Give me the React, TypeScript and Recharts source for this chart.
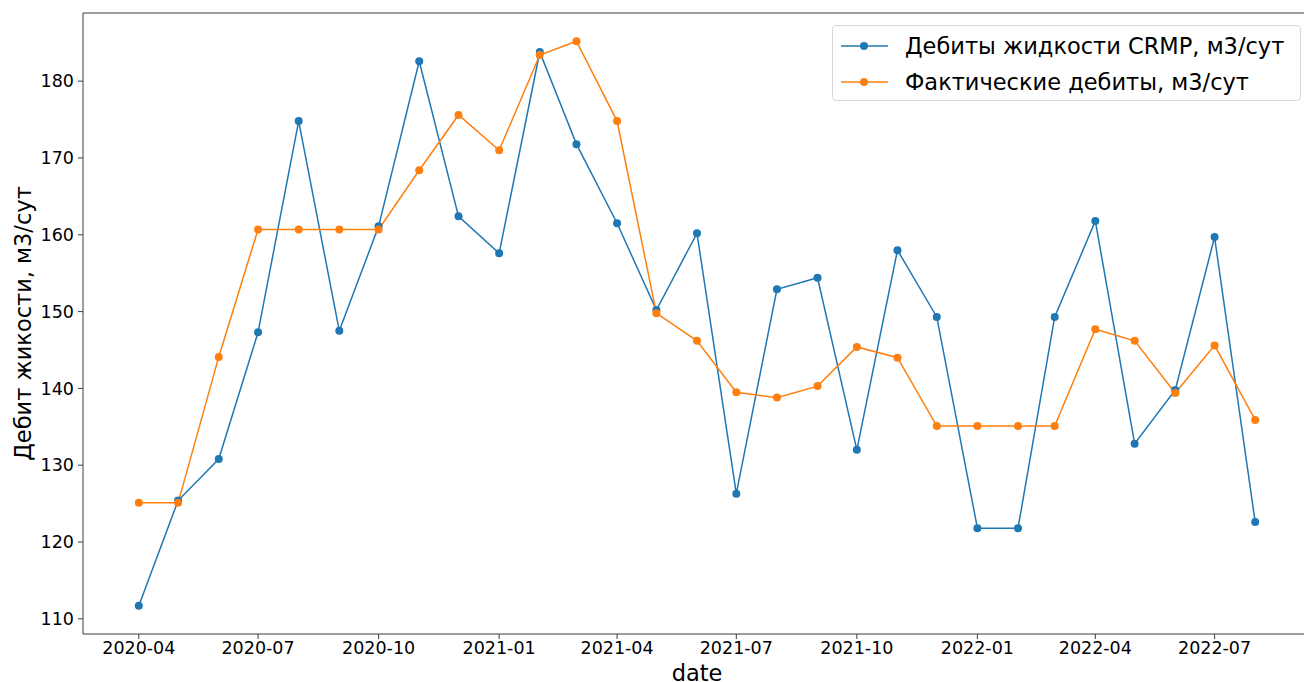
import React from 'react';
import { LineChart, Line, XAxis, YAxis, ReferenceLine } from 'recharts';

const months: string[] = [
  '2020-04', '2020-05', '2020-06', '2020-07', '2020-08', '2020-09', '2020-10', '2020-11', '2020-12',
  '2021-01', '2021-02', '2021-03', '2021-04', '2021-05', '2021-06', '2021-07', '2021-08', '2021-09',
  '2021-10', '2021-11', '2021-12', '2022-01', '2022-02', '2022-03', '2022-04', '2022-05', '2022-06',
  '2022-07', '2022-08',
];

const crmp: number[] = [
  111.7, 125.4, 130.8, 147.3, 174.8, 147.5, 161.1, 182.6, 162.4,
  157.6, 183.8, 171.8, 161.5, 150.2, 160.2, 126.3, 152.9, 154.4,
  132.0, 158.0, 149.3, 121.8, 121.8, 149.3, 161.8, 132.8, 139.8,
  159.7, 122.6,
];

const actual: number[] = [
  125.1, 125.1, 144.1, 160.7, 160.7, 160.7, 160.7, 168.4, 175.6,
  171.0, 183.4, 185.2, 174.8, 149.8, 146.2, 139.5, 138.8, 140.3,
  145.4, 144.0, 135.1, 135.1, 135.1, 135.1, 147.7, 146.2, 139.4,
  145.6, 135.9,
];

const xTickLabels: string[] = [
  '2020-04', '2020-07', '2020-10', '2021-01', '2021-04', '2021-07', '2021-10', '2022-01', '2022-04', '2022-07',
];
const yTicks: number[] = [110, 120, 130, 140, 150, 160, 170, 180];

const toTs = (m: string) => Date.UTC(Number(m.slice(0, 4)), Number(m.slice(5, 7)) - 1, 1);

const data = months.map((m, i) => ({ t: toTs(m), crmp: crmp[i], actual: actual[i] }));

const tMin = toTs(months[0]);
const tMax = toTs(months[months.length - 1]);
const xPad = (tMax - tMin) * 0.05;
const allVals = [...crmp, ...actual];
const vMin = Math.min(...allVals);
const vMax = Math.max(...allVals);
const yPad = (vMax - vMin) * 0.05;
const xDomain: [number, number] = [tMin - xPad, tMax + xPad];
const yDomain: [number, number] = [vMin - yPad, vMax + yPad];

const fmt = (t: number) => {
  const d = new Date(t);
  return `${d.getUTCFullYear()}-${String(d.getUTCMonth() + 1).padStart(2, '0')}`;
};

const FONT = 'DejaVu Sans';
const BLUE = '#1f77b4';
const ORANGE = '#ff7f0e';
const AXIS = '#3a3a3a';

const YLabel = () => (
  <text
    x={31}
    y={323.5}
    transform="rotate(-90 31 323.5)"
    textAnchor="middle"
    fontFamily={FONT}
    fontSize={22.5}
    fill="#000"
  >
    Дебит жикости, м3/сут
  </text>
);

const LegendBox = () => (
  <div
    style={{
      position: 'absolute',
      left: 832,
      top: 25,
      width: 469,
      height: 76,
      border: '1px solid #d8d8d8',
      borderRadius: 4,
      background: 'rgba(255,255,255,0.8)',
      boxSizing: 'border-box',
      fontFamily: FONT,
      fontSize: 22.5,
      color: '#000',
    }}
  >
    {[
      { c: BLUE, label: 'Дебиты жидкости CRMP, м3/сут', y: 20 },
      { c: ORANGE, label: 'Фактические дебиты, м3/сут', y: 56 },
    ].map((it) => (
      <div key={it.label} style={{ position: 'absolute', left: 0, top: it.y - 16, height: 32, width: '100%' }}>
        <svg width={60} height={32} style={{ position: 'absolute', left: 0, top: 0 }}>
          <line x1={8} x2={55} y1={16} y2={16} stroke={it.c} strokeWidth={1.5} />
          <circle cx={31} cy={16} r={4} fill={it.c} />
        </svg>
        <span style={{ position: 'absolute', left: 72, top: 0, lineHeight: '32px', whiteSpace: 'nowrap' }}>
          {it.label}
        </span>
      </div>
    ))}
  </div>
);

export default function App() {
  return (
    <div
      style={{
        position: 'absolute',
        left: 0,
        top: 0,
        width: 1304,
        height: 682,
        background: '#fff',
        overflow: 'hidden',
      }}
    >
      <LineChart
        width={1311}
        height={682}
        data={data}
        margin={{ top: 13, right: 0, left: 0, bottom: 0 }}
      >
        <XAxis
          dataKey="t"
          type="number"
          scale="time"
          domain={xDomain}
          ticks={xTickLabels.map(toTs)}
          tickFormatter={fmt}
          height={48}
          tickSize={5}
          tickMargin={3}
          tick={{ fontFamily: FONT, fontSize: 17.5, fill: '#000' }}
          stroke={AXIS}
          allowDataOverflow
          label={{
            value: 'date',
            position: 'insideBottom',
            offset: 1,
            style: { fontFamily: FONT, fontSize: 22.5, fill: '#000' },
          }}
        />
        <YAxis
          type="number"
          domain={yDomain}
          ticks={yTicks}
          width={83}
          tickSize={5}
          tickMargin={4}
          tick={{ fontFamily: FONT, fontSize: 17.5, fill: '#000' }}
          stroke={AXIS}
          allowDataOverflow
          label={{ content: () => <YLabel /> }}
        />
        <ReferenceLine y={yDomain[1]} stroke={AXIS} strokeWidth={1} ifOverflow="visible" />
        <Line
          dataKey="crmp"
          stroke={BLUE}
          strokeWidth={1.5}
          dot={{ r: 4, fill: BLUE, stroke: BLUE, strokeWidth: 0 }}
          activeDot={false}
          isAnimationActive={false}
        />
        <Line
          dataKey="actual"
          stroke={ORANGE}
          strokeWidth={1.5}
          dot={{ r: 4, fill: ORANGE, stroke: ORANGE, strokeWidth: 0 }}
          activeDot={false}
          isAnimationActive={false}
        />
      </LineChart>
      <LegendBox />
    </div>
  );
}
